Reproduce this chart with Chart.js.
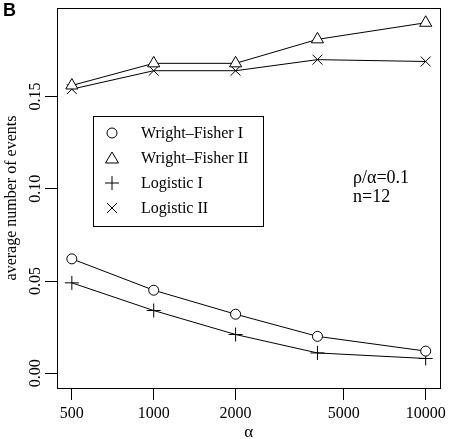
<!DOCTYPE html>
<html lang="en">
<head>
  <meta charset="UTF-8">
  <title>Average number of events</title>
  <script src="https://cdn.jsdelivr.net/npm/chart.js"></script>
  <style>
    html, body { margin: 0; padding: 0; background: white; }
    #wrap { width: 450px; height: 439px; position: relative; }
  </style>
</head>
<body>
<div id="wrap"><canvas id="chart"></canvas></div>
<script>
const alpha = [500, 1000, 2000, 4000, 10000];
const wrightFisherI = [0.062, 0.045, 0.032, 0.020, 0.012];
const wrightFisherII = [0.156, 0.168, 0.168, 0.181, 0.190];
const logisticI = [0.049, 0.034, 0.021, 0.011, 0.008];
const logisticII = [0.154, 0.164, 0.164, 0.170, 0.169];
const xTicks = [500, 1000, 2000, 5000, 10000];
const yTicks = [0, 0.05, 0.10, 0.15];
const seriesNames = ['Wright\u2013Fisher I', 'Wright\u2013Fisher II', 'Logistic I', 'Logistic II'];

const serif = '"Liberation Serif", "DejaVu Serif", serif';

function pts(vals) { return alpha.map((a, i) => ({ x: a, y: vals[i] })); }

function makeSet(label, vals, style, radius) {
  return {
    label, data: pts(vals), borderColor: 'black', borderWidth: 1, tension: 0,
    pointStyle: style, pointRadius: radius, pointBorderColor: 'black',
    pointBackgroundColor: 'white', pointBorderWidth: 1
  };
}

// markers for the legend box
function marker(ctx, kind, x, y) {
  ctx.beginPath();
  if (kind === 'circle') { ctx.arc(x, y, 5, 0, Math.PI * 2); }
  else if (kind === 'triangle') { ctx.moveTo(x, y - 6); ctx.lineTo(x + 6.5, y + 5); ctx.lineTo(x - 6.5, y + 5); ctx.closePath(); }
  else if (kind === 'cross') { ctx.moveTo(x - 7, y); ctx.lineTo(x + 7, y); ctx.moveTo(x, y - 7); ctx.lineTo(x, y + 7); }
  else { ctx.moveTo(x - 5, y - 5); ctx.lineTo(x + 5, y + 5); ctx.moveTo(x + 5, y - 5); ctx.lineTo(x - 5, y + 5); }
  ctx.stroke();
}

const decor = {
  id: 'decor',
  afterDraw(chart) {
    const ctx = chart.ctx, a = chart.chartArea, ys = chart.scales.y;
    ctx.save();
    ctx.strokeStyle = 'black'; ctx.fillStyle = 'black'; ctx.lineWidth = 1;
    ctx.strokeRect(Math.round(a.left) + 0.5, Math.round(a.top) + 0.5, Math.round(a.right - a.left) - 1, Math.round(a.bottom - a.top));

    // rotated y tick labels
    ctx.font = '16px ' + serif;
    ctx.textAlign = 'center'; ctx.textBaseline = 'alphabetic';
    yTicks.forEach(v => {
      ctx.save();
      ctx.translate(40, ys.getPixelForValue(v));
      ctx.rotate(-Math.PI / 2);
      ctx.fillText(v.toFixed(2), 0, 0);
      ctx.restore();
    });

    // axis titles
    ctx.save();
    ctx.translate(16, (a.top + a.bottom) / 2);
    ctx.rotate(-Math.PI / 2);
    ctx.fillText('average number of events', 0, 0);
    ctx.restore();
    ctx.font = '17px ' + serif;
    ctx.fillText('\u03b1', (a.left + a.right) / 2, 437);

    // panel letter
    ctx.textAlign = 'left';
    ctx.font = 'bold 18px "Liberation Sans", Arial, sans-serif';
    ctx.fillText('B', 3, 16);

    // legend
    ctx.strokeRect(93.5, 116.5, 170, 110);
    ctx.font = '16px ' + serif;
    ctx.textBaseline = 'middle';
    const kinds = ['circle', 'triangle', 'cross', 'crossRot'];
    seriesNames.forEach((name, i) => {
      const y = 133 + i * 25;
      marker(ctx, kinds[i], 112, y);
      ctx.fillText(name, 141, y + 1);
    });

    // annotation
    ctx.textBaseline = 'alphabetic';
    ctx.font = '18px ' + serif;
    ctx.fillText('\u03c1/\u03b1=0.1', 353, 183);
    ctx.fillText('n=12', 353, 202);
    ctx.restore();
  }
};

new Chart(document.getElementById('chart'), {
  type: 'line',
  data: {
    datasets: [
      makeSet(seriesNames[0], wrightFisherI, 'circle', 5),
      makeSet(seriesNames[1], wrightFisherII, 'triangle', 7),
      makeSet(seriesNames[2], logisticI, 'cross', 7),
      makeSet(seriesNames[3], logisticII, 'crossRot', 7)
    ]
  },
  options: {
    responsive: true, maintainAspectRatio: false, animation: false,
    layout: { padding: { top: 1, right: 6, left: 0, bottom: 0 } },
    plugins: { legend: { display: false }, tooltip: { enabled: false } },
    scales: {
      x: {
        type: 'logarithmic', min: 441, max: 11340,
        afterBuildTicks: s => { s.ticks = xTicks.map(v => ({ value: v })); },
        afterFit: s => { s.height = 51; },
        border: { display: false },
        grid: { drawOnChartArea: false, drawTicks: true, tickLength: 12, color: 'black', tickColor: 'black' },
        ticks: { color: 'black', font: { family: serif, size: 16 }, maxRotation: 0, autoSkip: false, padding: 4, callback: v => String(v) }
      },
      y: {
        min: -0.008, max: 0.198,
        afterBuildTicks: s => { s.ticks = yTicks.map(v => ({ value: v })); },
        afterFit: s => { s.width = 57; },
        border: { display: false },
        grid: { drawOnChartArea: false, drawTicks: true, tickLength: 12, color: 'black', tickColor: 'black' },
        ticks: { display: false }
      }
    }
  },
  plugins: [decor]
});
</script>
</body>
</html>
